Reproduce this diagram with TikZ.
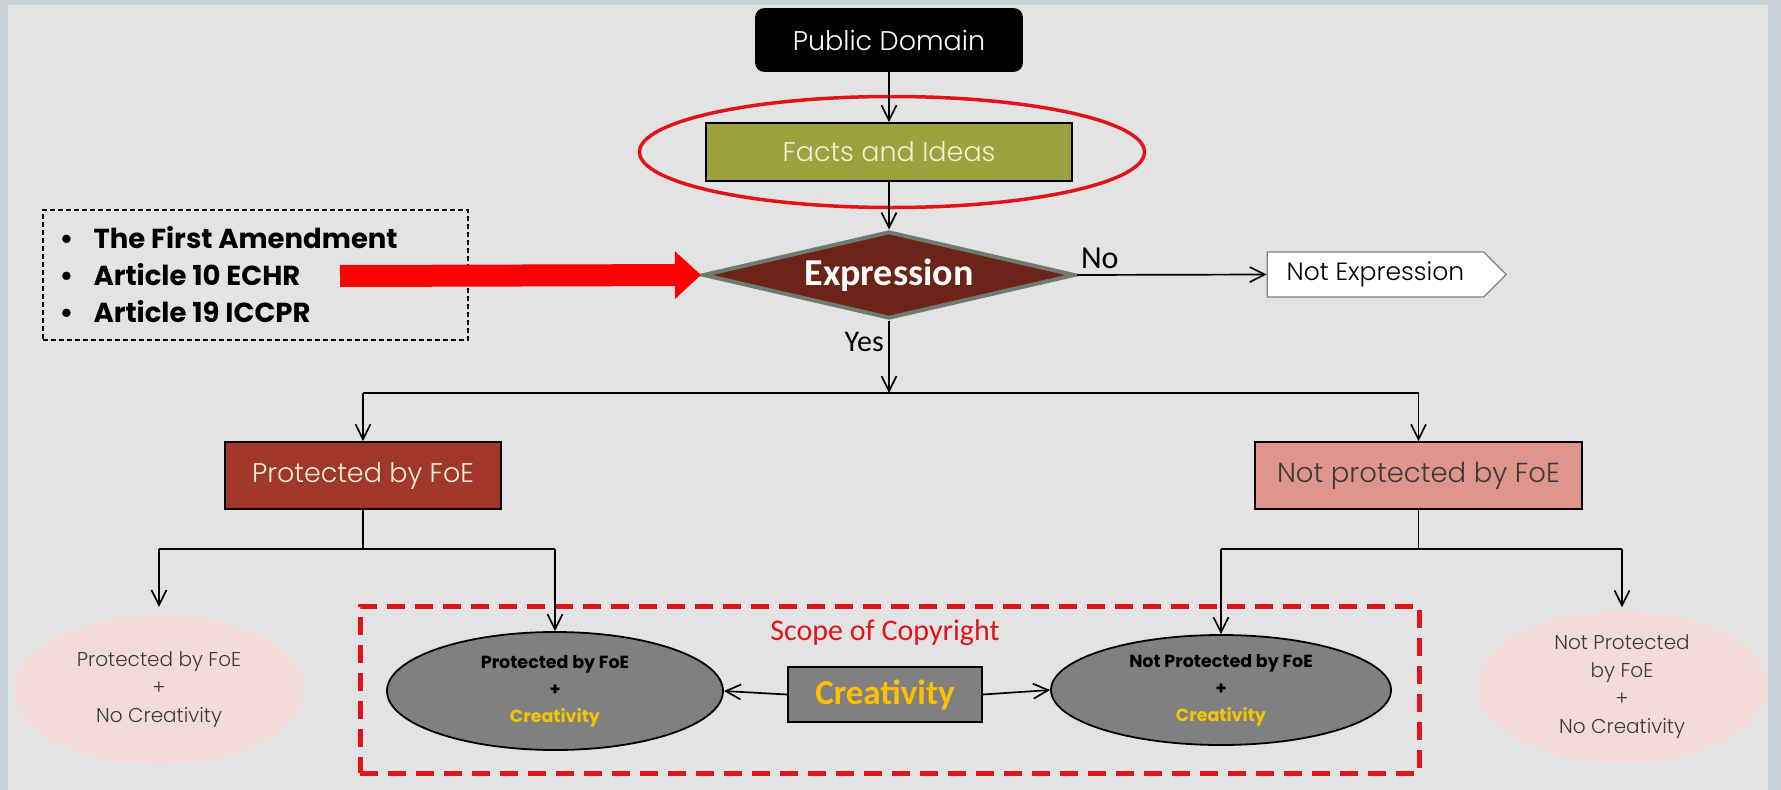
\documentclass[tikz,border=0pt]{standalone}
\usepackage{fontspec}
\usetikzlibrary{arrows.meta,shapes.geometric,shapes.symbols}
\newfontfamily\gothic{Poppins}
\IfFontExistsTF{Poppins Light}{\newfontfamily\gothicl{Poppins Light}}{\newfontfamily\gothicl{Poppins}}
\newfontfamily\calib{Carlito}
\definecolor{bordercol}{HTML}{C8D3DA}
\definecolor{bgcol}{HTML}{E3E3E3}
\definecolor{olive}{HTML}{9EA23E}
\definecolor{cream}{HTML}{F4F0D4}
\definecolor{expfill}{HTML}{6C2318}
\definecolor{expline}{HTML}{6F7A70}
\definecolor{brick}{HTML}{A0372A}
\definecolor{salmon}{HTML}{E0958C}
\definecolor{pinkfill}{HTML}{F3DCD8}
\definecolor{grayfill}{HTML}{808080}
\definecolor{gold}{HTML}{FFC000}
\definecolor{goldb}{HTML}{F2C600}
\definecolor{redline}{HTML}{E0151C}
\definecolor{darktext}{HTML}{3A3A3A}
\tikzset{
  line/.style={draw=black, line width=1.7pt},
  arr/.style={line, -{Straight Barb[length=15pt,width=15pt]}},
  redarrow/.style={draw=red, line width=22pt, -{Triangle[length=26pt,width=46pt]}},
  boxnode/.style={draw=black, line width=1.6pt, inner sep=0pt},
  pinkell/.style={ellipse, fill=pinkfill, inner sep=0pt, align=center, text=darktext,
     font=\gothicl\fontsize{20}{28}\selectfont},
  grayell/.style={ellipse, draw=black, line width=1.8pt, fill=grayfill, inner sep=0pt, align=center,
     font=\gothic\bfseries\fontsize{17.5}{27}\selectfont},
}
\begin{document}
\begin{tikzpicture}[x=1pt,y=-1pt]
\useasboundingbox (0,0) rectangle (1781,790);
\fill[bordercol] (0,0) rectangle (1781,790);
\fill[bgcol] (8,5) rectangle (1768,790);

% top part
\node[boxnode, fill=black, rounded corners=8pt, minimum width=266pt, minimum height=62pt,
  text=white, font=\gothicl\fontsize{27}{30}\selectfont] (pd) at (889,40) {Public Domain};
\node[boxnode, fill=olive, minimum width=366pt, minimum height=58pt,
  text=cream, font=\gothicl\fontsize{27}{30}\selectfont] (facts) at (889,152) {Facts and Ideas};
\node[ellipse, draw=redline, line width=3.5pt, minimum width=505pt, minimum height=111pt] (hl) at (892,152) {};
\node[diamond, aspect=4.28, draw=expline, line width=4pt, fill=expfill, inner sep=0pt,
  minimum width=372pt, minimum height=87pt, text=white, font=\calib\bfseries\fontsize{38}{40}\selectfont] (expr) at (889,275) {Expression};
\node[signal, signal to=east, signal pointer angle=90, draw=gray, line width=1.2pt, fill=white,
  minimum width=239pt, minimum height=45pt, inner sep=0pt,
  font=\gothicl\fontsize{25}{28}\selectfont] (notexp) at (1375.5,274.5) {Not Expression};

\draw[arr] (pd) -- (facts);
\draw[arr] (facts) -- (expr);
\draw[arr] (expr.east) -- node[pos=0.12, above=2pt, font=\calib\fontsize{32}{34}\selectfont] (nolab) {No} (notexp.west);

% law box
\node[draw=black, dashed, line width=1.5pt, dash pattern=on 5pt off 3pt, minimum width=425pt, minimum height=130pt] (laws) at (255.5,275) {};
\node[anchor=west, align=left, font=\gothic\bfseries\fontsize{27.5}{37}\selectfont] (lawtext) at (56,275)
  {\makebox[34pt][l]{\textbullet}The First Amendment\\
   \makebox[34pt][l]{\textbullet}Article 10 ECHR\\
   \makebox[34pt][l]{\textbullet}Article 19 ICCPR};
\coordinate (rs) at (340,276);
\draw[redarrow] (rs) -- (expr.west);

% level 2
\node[boxnode, fill=brick, minimum width=276pt, minimum height=67pt, text=cream,
  font=\gothicl\fontsize{27}{30}\selectfont] (prot) at (363,475.5) {Protected by FoE};
\node[boxnode, fill=salmon, minimum width=327pt, minimum height=67pt, text=darktext,
  font=\gothicl\fontsize{27.5}{30}\selectfont] (notprot) at (1418.5,475.5) {Not protected by FoE};

\coordinate (jtop) at (889,393);
\draw[arr] (expr.south) -- node[pos=0.3, left=1pt, font=\calib\fontsize{30}{32}\selectfont] (yeslab) {Yes} (jtop);
\draw[line] (prot.north |- jtop) -- (notprot.north |- jtop);
\draw[arr] (prot.north |- jtop) -- (prot.north);
\draw[arr] (notprot.north |- jtop) -- (notprot.north);

% scope
\node[draw=redline, line width=5pt, dash pattern=on 18pt off 10pt, minimum width=1059pt, minimum height=167pt] (scope) at (889.5,689.5) {};
\node[text=redline, font=\calib\fontsize{30}{32}\selectfont] (scopelab) at (885,633) {Scope of Copyright};

% bottom
\node[pinkell, minimum width=290pt, minimum height=150pt] (pinkL) at (159,690)
  {Protected by FoE\\+\\No Creativity};
\node[pinkell, minimum width=290pt, minimum height=153pt] (pinkR) at (1622,687)
  {Not Protected\\by FoE\\+\\No Creativity};
\node[grayell, minimum width=336pt, minimum height=118pt] (grayL) at (555,691)
  {Protected by FoE\\+\\\textcolor{goldb}{Creativity}};
\node[grayell, minimum width=340pt, minimum height=110pt] (grayR) at (1221,690)
  {Not Protected by FoE\\+\\\textcolor{goldb}{Creativity}};
\node[boxnode, fill=grayfill, minimum width=194pt, minimum height=55pt, text=gold,
  font=\calib\bfseries\fontsize{35}{38}\selectfont] (creat) at (885,694.5) {Creativity};

\coordinate (jl) at (363,549);
\coordinate (jr) at (1418.5,549);
\draw[line] (prot.south) -- (jl);
\draw[line] (notprot.south) -- (jr);
\draw[line] (pinkL.north |- jl) -- (grayL.north |- jl);
\draw[line] (grayR.north |- jr) -- (pinkR.north |- jr);
\draw[arr, shorten >=8pt] (pinkL.north |- jl) -- (pinkL.north);
\draw[arr] (grayL.north |- jl) -- (grayL.north);
\draw[arr] (grayR.north |- jr) -- (grayR.north);
\draw[arr, shorten >=3pt] (pinkR.north |- jr) -- (pinkR.north);
\draw[arr] (creat.west) -- (grayL.east);
\draw[arr] (creat.east) -- (grayR.west);
\end{tikzpicture}
\end{document}
